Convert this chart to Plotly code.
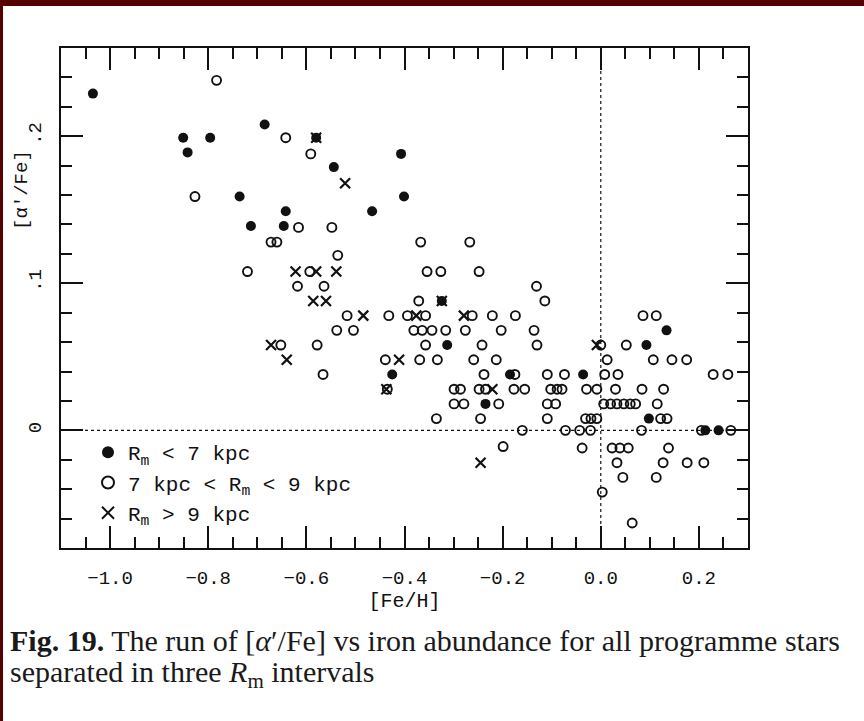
import plotly.graph_objects as go

# ---------------- data ----------------
# R_m < 7 kpc  (filled circles)
inner_feh = [-1.035, -0.851, -0.796, -0.842, -0.685, -0.736, -0.642, -0.713, -0.646,
             -0.580, -0.544, -0.407, -0.401, -0.466, -0.324, -0.313, -0.425, -0.185,
             -0.235, -0.036, 0.093, 0.134, 0.098, 0.240, 0.213]
inner_alpha = [0.229, 0.199, 0.199, 0.189, 0.208, 0.159, 0.149, 0.139, 0.139,
               0.199, 0.179, 0.188, 0.159, 0.149, 0.088, 0.058, 0.038, 0.038,
               0.018, 0.038, 0.058, 0.068, 0.008, 0.000, 0.000]

# 7 kpc < R_m < 9 kpc  (open circles)
mid_feh = [-0.783, -0.642, -0.591, -0.827, -0.672, -0.660, -0.720, -0.652, -0.616, -0.548,
           -0.367, -0.267, -0.536, -0.593, -0.354, -0.326, -0.248, -0.618, -0.564, -0.371,
           -0.517, -0.432, -0.394, -0.357, -0.262, -0.221, -0.174, -0.538, -0.504, -0.381,
           -0.364, -0.344, -0.316, -0.276, -0.203, -0.578, -0.357, -0.242, -0.439, -0.369,
           -0.333, -0.259, -0.213, -0.566, -0.238, -0.175, -0.131, -0.114, -0.136, -0.130,
           0.000, 0.052, 0.086, 0.113, 0.013, 0.107, 0.145, 0.175, -0.109, -0.074,
           0.008, 0.035, 0.229, 0.259,
           -0.435, -0.299, -0.286, -0.248, -0.235, -0.177, -0.155, -0.102, -0.089, -0.079,
           -0.029, -0.008, 0.030, 0.084, 0.128,
           -0.299, -0.279, -0.208, -0.109, -0.092, 0.006, 0.020, 0.033, 0.047, 0.060,
           0.071, 0.115,
           -0.335, -0.245, -0.109, -0.031, -0.020, -0.008, 0.122, 0.135,
           -0.160, -0.072, -0.043, -0.021, 0.083, 0.205, 0.265,
           -0.199, -0.038, 0.023, 0.039, 0.056, 0.138,
           0.033, 0.127, 0.176, 0.210,
           0.045, 0.113, 0.003, 0.064]
mid_alpha = [0.238, 0.199, 0.188, 0.159, 0.128, 0.128, 0.108, 0.058, 0.138, 0.138,
             0.128, 0.128, 0.119, 0.108, 0.108, 0.108, 0.108, 0.098, 0.098, 0.088,
             0.078, 0.078, 0.078, 0.078, 0.078, 0.078, 0.078, 0.068, 0.068, 0.068,
             0.068, 0.068, 0.068, 0.068, 0.068, 0.058, 0.058, 0.058, 0.048, 0.048,
             0.048, 0.048, 0.048, 0.038, 0.038, 0.038, 0.098, 0.088, 0.068, 0.058,
             0.058, 0.058, 0.078, 0.078, 0.048, 0.048, 0.048, 0.048, 0.038, 0.038,
             0.038, 0.038, 0.038, 0.038,
             0.028, 0.028, 0.028, 0.028, 0.028, 0.028, 0.028, 0.028, 0.028, 0.028,
             0.028, 0.028, 0.028, 0.028, 0.028,
             0.018, 0.018, 0.018, 0.018, 0.018, 0.018, 0.018, 0.018, 0.018, 0.018,
             0.018, 0.018,
             0.008, 0.008, 0.008, 0.008, 0.008, 0.008, 0.008, 0.008,
             0.000, 0.000, 0.000, 0.000, 0.000, 0.000, 0.000,
             -0.011, -0.012, -0.012, -0.012, -0.012, -0.012,
             -0.022, -0.022, -0.022, -0.022,
             -0.032, -0.032, -0.042, -0.063]

# R_m > 9 kpc  (crosses)
outer_feh = [-0.580, -0.521, -0.622, -0.580, -0.539, -0.586, -0.560, -0.324, -0.484,
             -0.376, -0.279, -0.672, -0.640, -0.411, -0.437, -0.221, -0.008, -0.245]
outer_alpha = [0.199, 0.168, 0.108, 0.108, 0.108, 0.088, 0.088, 0.088, 0.078,
               0.078, 0.078, 0.058, 0.048, 0.048, 0.028, 0.028, 0.058, -0.022]

series_names = ["R<sub>m</sub> &lt; 7 kpc",
                "7 kpc &lt; R<sub>m</sub> &lt; 9 kpc",
                "R<sub>m</sub> &gt; 9 kpc"]

x_tickvals = [-1.0, -0.8, -0.6, -0.4, -0.2, 0.0, 0.2]
x_ticktext = ["\u22121.0", "\u22120.8", "\u22120.6", "\u22120.4", "\u22120.2", "0.0", "0.2"]
y_tickvals = [0.0, 0.1, 0.2]
y_ticktext = ["0", ".1", ".2"]

# ---------------- styling ----------------
INK = "#111111"
MONO = "Liberation Mono, Courier New, monospace"
SERIF = "Liberation Serif, Times New Roman, serif"
FRAME = "#560000"

W, H = 864, 721
ML, MR, MT, MB = 61, 116, 48, 173
PW, PH = W - ML - MR, H - MT - MB


def px_to_paper_x(px):
    return (px - ML) / PW


def px_to_paper_y(py):
    return (H - MB - py) / PH


fig = go.Figure()
fig.add_trace(go.Scatter(
    x=inner_feh, y=inner_alpha, mode="markers", name=series_names[0],
    marker=dict(symbol="circle", size=10, color=INK, line=dict(width=0))))
fig.add_trace(go.Scatter(
    x=mid_feh, y=mid_alpha, mode="markers", name=series_names[1],
    marker=dict(symbol="circle-open", size=9, color=INK, line=dict(width=1.9, color=INK))))
fig.add_trace(go.Scatter(
    x=outer_feh, y=outer_alpha, mode="markers", name=series_names[2],
    marker=dict(symbol="x-thin-open", size=10, color=INK, line=dict(width=2.2, color=INK))))

fig.add_hline(y=0, line=dict(color=INK, width=1.2, dash="dot"), layer="below")
fig.add_vline(x=0, line=dict(color=INK, width=1.2, dash="dot"), layer="below")

axis_common = dict(
    showgrid=False, zeroline=False, showline=True, linecolor=INK, linewidth=2,
    mirror="ticks", ticks="inside", tickcolor=INK, tickwidth=1.6, ticklen=22,
    tickfont=dict(family=MONO, size=19, color=INK),
)

fig.update_xaxes(
    **axis_common, range=[-1.1, 0.3], tickvals=x_tickvals, ticktext=x_ticktext,
    minor=dict(ticks="inside", ticklen=11, dtick=0.05, tick0=0, tickcolor=INK, tickwidth=1.6),
    title=dict(text="[Fe/H]", font=dict(family=MONO, size=20, color=INK), standoff=1),
    ticklabelstandoff=11,
)
fig.update_yaxes(
    **axis_common, range=[-0.08, 0.26], tickvals=y_tickvals, ticktext=y_ticktext,
    tickangle=-90,
    minor=dict(ticks="inside", ticklen=11, dtick=0.02, tick0=0, tickcolor=INK, tickwidth=1.6),
    ticklabelstandoff=10,
)

fig.add_annotation(
    text="[\u03b1\u2032/Fe]", textangle=-90, showarrow=False,
    xref="paper", yref="paper", x=px_to_paper_x(22), y=px_to_paper_y(190),
    xanchor="center", yanchor="middle",
    font=dict(family=MONO, size=19, color=INK))

fig.add_annotation(
    text="<b>Fig. 19.</b> The run of [<i>\u03b1</i>\u2032/Fe] vs iron abundance for all programme stars",
    showarrow=False, xref="paper", yref="paper",
    x=px_to_paper_x(8), y=px_to_paper_y(640), xanchor="left", yanchor="middle",
    font=dict(family=SERIF, size=30, color="#1a1a1a"))
fig.add_annotation(
    text="separated in three <i>R</i><sub>m</sub> intervals",
    showarrow=False, xref="paper", yref="paper",
    x=px_to_paper_x(8), y=px_to_paper_y(674), xanchor="left", yanchor="middle",
    font=dict(family=SERIF, size=30, color="#1a1a1a"))

# dark scan frame at top and left
fig.add_shape(type="rect", xref="paper", yref="paper", layer="above",
              x0=px_to_paper_x(0), x1=px_to_paper_x(W), y0=px_to_paper_y(6), y1=px_to_paper_y(0),
              fillcolor=FRAME, line=dict(width=0))
fig.add_shape(type="rect", xref="paper", yref="paper", layer="above",
              x0=px_to_paper_x(0), x1=px_to_paper_x(3), y0=px_to_paper_y(H), y1=px_to_paper_y(0),
              fillcolor=FRAME, line=dict(width=0))

fig.update_layout(
    width=W, height=H,
    margin=dict(l=ML, r=MR, t=MT, b=MB, pad=0),
    paper_bgcolor="white", plot_bgcolor="white",
    showlegend=True,
    legend=dict(
        x=px_to_paper_x(88), y=px_to_paper_y(432), xanchor="left", yanchor="top",
        bgcolor="rgba(0,0,0,0)", borderwidth=0,
        font=dict(family=MONO, size=21, color=INK),
        tracegroupgap=0, itemsizing="constant",
    ),
)

fig.write_html("out.html")
